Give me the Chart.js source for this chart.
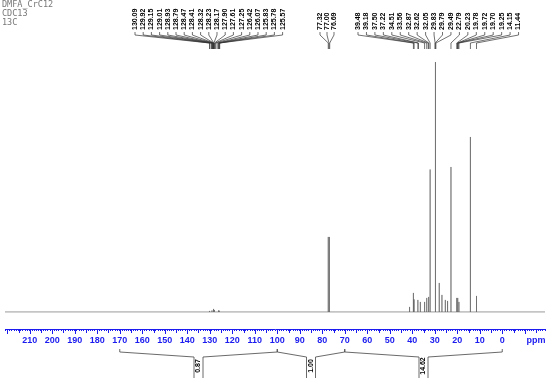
<!DOCTYPE html>
<html>
<head>
<meta charset="utf-8">
<script src="https://cdn.jsdelivr.net/npm/chart.js@4/dist/chart.umd.min.js"></script>
<style>
  html, body { margin: 0; padding: 0; background: #fff; }
  #wrap { width: 550px; height: 378px; }
</style>
</head>
<body>
<div id="wrap"><canvas id="espectro" width="550" height="378"></canvas></div>
<script>
// cabecalho do arquivo
const cabecalho = ['DMFA_CrC12', 'CDC13', '13C'];

// picos (ppm) e alturas relativas (100 = pico mais alto)
const picosPpm = [130.09, 129.01, 128.32, 127.90, 126.07, 125.78,
  77.32, 77.00, 76.69,
  41.2, 39.48, 39.18, 37.50, 36.4, 34.51, 33.56, 32.87, 32.62, 32.05, 29.83, 29.79, 29.49,
  28.0, 26.8, 25.3, 24.3, 22.79, 20.23, 19.78, 19.25, 14.15, 11.44];
const picosAltura = [0.4, 0.6, 1.2, 0.8, 0.6, 0.5,
  30, 30, 30,
  2, 7.6, 5, 4.8, 4, 4, 5.6, 5, 6, 57, 96, 100, 48,
  11.6, 6.8, 4.8, 4.4, 58, 5.6, 5.6, 4, 70, 6.4];

// rotulos dos picos
const rotulosAromaticos = [130.09, 129.92, 129.15, 129.01, 128.93, 128.79, 128.47, 128.41, 128.32, 128.23,
  128.17, 127.90, 127.61, 127.25, 126.42, 126.07, 125.83, 125.78, 125.57];
const rotulosSolvente = [77.32, 77.00, 76.69];
const rotulosAlifaticos = [39.48, 39.18, 37.50, 37.22, 34.51, 33.56, 32.87, 32.62, 32.05, 29.83,
  29.79, 29.49, 22.79, 20.23, 19.78, 19.72, 19.70, 19.25, 14.15, 11.44];

// integrais
const integralInicio = [170, 100, 70];
const integralFim = [100, 70, 0];
const integralValor = ['0.87', '1.00', '14.62'];

// monta a linha do espectro a partir dos picos
const pontos = [{ x: 221, y: 0 }];
picosPpm.forEach((p, i) => {
  pontos.push({ x: p, y: 0 }, { x: p, y: picosAltura[i] }, { x: p, y: 0 });
});
pontos.push({ x: -19, y: 0 });

const AZUL = '#1c1cf0';

const extras = {
  id: 'extras',
  afterDraw(chart) {
    const c = chart.ctx;
    const x = chart.scales.x;
    const topoEixo = x.top;

    // cabecalho
    c.save();
    c.fillStyle = '#777';
    c.font = '8.5px "DejaVu Sans Mono", monospace';
    c.textBaseline = 'middle';
    cabecalho.forEach((t, i) => c.fillText(t, 2, 5 + i * 9));
    c.restore();

    // marcas maiores da regua
    c.save();
    c.strokeStyle = AZUL;
    c.lineWidth = 1;
    for (let v = -15; v <= 220; v += 5) {
      const px = Math.round(x.getPixelForValue(v)) + 0.5;
      c.beginPath();
      c.moveTo(px, topoEixo);
      c.lineTo(px, topoEixo + (v % 10 === 0 ? 5 : 4));
      c.stroke();
    }
    c.fillStyle = AZUL;
    c.font = 'bold 9px "Liberation Sans", Arial';
    c.textAlign = 'center';
    c.textBaseline = 'middle';
    c.fillText('ppm', 536, 341);
    c.restore();

    // rotulos dos picos com linhas guia
    const grupos = [
      { vals: rotulosAromaticos, x0: 135, passo: 8.2 },
      { vals: rotulosSolvente, x0: 320, passo: 7 },
      { vals: rotulosAlifaticos, x0: 358, passo: 8.45 }
    ];
    c.save();
    c.font = 'bold 7px "Liberation Sans", Arial';
    c.fillStyle = '#000';
    c.strokeStyle = '#333';
    c.lineWidth = 0.7;
    grupos.forEach(g => {
      g.vals.forEach((v, i) => {
        const lx = g.x0 + i * g.passo;
        const px = x.getPixelForValue(v);
        c.save();
        c.translate(lx, 30);
        c.rotate(-Math.PI / 2);
        c.textAlign = 'left';
        c.textBaseline = 'middle';
        c.fillText(v.toFixed(2), 0, 0);
        c.restore();
        c.beginPath();
        c.moveTo(lx, 32);
        c.lineTo(lx, 35);
        c.lineTo(px, 43);
        c.lineTo(px, 49);
        c.stroke();
      });
    });
    c.restore();

    // integrais
    c.save();
    c.strokeStyle = '#444';
    c.lineWidth = 0.8;
    c.fillStyle = '#000';
    c.font = 'bold 7px "Liberation Sans", Arial';
    integralInicio.forEach((a, i) => {
      const b = integralFim[i];
      const xa = x.getPixelForValue(a);
      const xb = x.getPixelForValue(b);
      const meio = (xa + xb) / 2;
      c.beginPath();
      c.moveTo(xa, 349); c.lineTo(xa, 352); c.lineTo(meio - 4.5, 357); c.lineTo(meio - 4.5, 378);
      c.moveTo(xb, 349); c.lineTo(xb, 352); c.lineTo(meio + 4.5, 357); c.lineTo(meio + 4.5, 378);
      c.stroke();
      c.save();
      c.translate(meio, 366);
      c.rotate(-Math.PI / 2);
      c.textAlign = 'center';
      c.textBaseline = 'middle';
      c.fillText(integralValor[i], 0, 0);
      c.restore();
    });
    c.restore();
  }
};

new Chart(document.getElementById('espectro'), {
  type: 'line',
  data: {
    datasets: [{
      data: pontos,
      borderColor: '#555',
      borderWidth: 0.6,
      pointRadius: 0,
      tension: 0
    }]
  },
  options: {
    responsive: false,
    animation: false,
    devicePixelRatio: 1,
    layout: { padding: { top: 62, left: 5, right: 5, bottom: 0 } },
    plugins: { legend: { display: false }, tooltip: { enabled: false } },
    scales: {
      x: {
        type: 'linear',
        reverse: true,
        min: -19,
        max: 221,
        afterFit: s => { s.height = 49; },
        border: { color: AZUL, width: 1 },
        grid: { drawOnChartArea: false, color: AZUL, tickLength: 2 },
        ticks: {
          stepSize: 1,
          autoSkip: false,
          maxRotation: 0,
          padding: 4,
          color: AZUL,
          font: { family: '"Liberation Sans", Arial', size: 9, weight: 'bold' },
          callback: v => (v % 10 === 0 && v >= 0 && v <= 210) ? String(v) : ''
        }
      },
      y: { display: false, min: -6.83, max: 100 }
    }
  },
  plugins: [extras]
});
</script>
</body>
</html>
